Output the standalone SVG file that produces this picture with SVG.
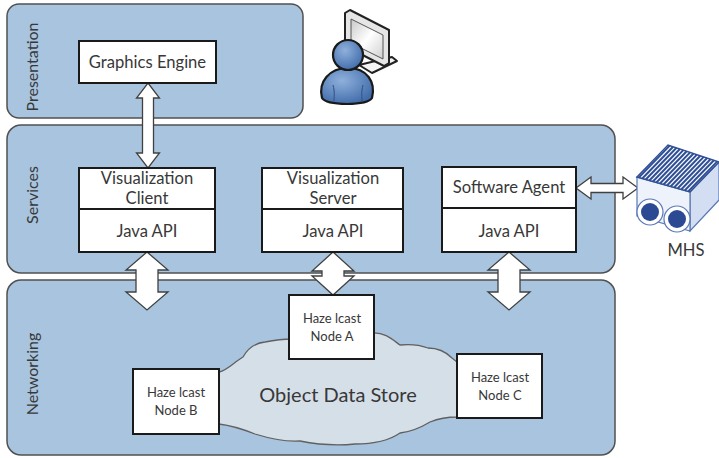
<svg xmlns="http://www.w3.org/2000/svg" width="719" height="458" viewBox="0 0 719 458">
  <defs>
    <style>
      .panel { fill: #a8c4de; stroke: #505050; stroke-width: 1.5; }
      .box { fill: #ffffff; stroke: #1a1a1a; stroke-width: 2; }
      .arrow { fill: #ffffff; stroke: #404040; stroke-width: 1.3; stroke-linejoin: miter; }
      .lbl { font-family: Lato, "Liberation Sans", sans-serif; fill: #383838; text-anchor: middle; }
      .side { font-family: Lato, "Liberation Sans", sans-serif; fill: #383838; text-anchor: middle; font-size: 16px; }
      .t16 { font-size: 16.6px; }
      .t13 { font-size: 13px; }
      .cloud { fill: #d5dfe8; stroke: #606060; stroke-width: 1.3; }
      .stripe { stroke: #2f4f96; stroke-width: 2; }
    </style>
    <radialGradient id="skin" cx="0.4" cy="0.35" r="0.7">
      <stop offset="0" stop-color="#8fb0dc"/>
      <stop offset="1" stop-color="#3f6ba9"/>
    </radialGradient>
    <linearGradient id="screen" x1="0" y1="0" x2="1" y2="1">
      <stop offset="0" stop-color="#c8c8c8"/>
      <stop offset="0.5" stop-color="#ffffff"/>
      <stop offset="1" stop-color="#d0d0d0"/>
    </linearGradient>
  </defs>

  <!-- layer panels -->
  <g id="layer-presentation">
    <rect class="panel" x="7" y="4" width="296" height="114" rx="12"/>
    <text class="side" transform="translate(38,67) rotate(-90)">Presentation</text>
  </g>
  <g id="layer-services">
    <rect class="panel" x="7" y="125" width="608" height="148" rx="14"/>
    <text class="side" transform="translate(38,195) rotate(-90)">Services</text>
  </g>
  <g id="layer-networking">
    <rect class="panel" x="7" y="280" width="608" height="175" rx="14"/>
    <text class="side" transform="translate(38,374) rotate(-90)">Networking</text>
  </g>

  <!-- shared data store cloud -->
  <g id="object-data-store">
    <path class="cloud" d="M219,372 C228,370 234,362 243,357 C248,348 255,343 265,342 C275,340 283,339 292,339 L372,333 C385,332 393,340 400,345 C410,344 420,345 428,348 C438,348 446,352 452,358 L457,362 L457,417 C448,417 440,418 430,422 C420,428 410,432 400,433 C390,440 375,444 355,444 C335,446 315,444 300,441 C285,442 268,438 255,434 C245,430 235,426 219,424 Z"/>
    <text class="lbl" x="338" y="402" font-size="20">Object Data Store</text>
  </g>

  <!-- connectors -->
  <g id="connectors">
    <path class="arrow" d="M148,83 L159.5,98 L153.5,98 L153.5,153 L159.5,153 L148,168 L136.5,153 L142.5,153 L142.5,98 L136.5,98 Z"/>
    <path class="arrow" d="M147,252 L168,270 L158,270 L158,292 L168,292 L147,310 L126,292 L136,292 L136,270 L126,270 Z"/>
    <path class="arrow" d="M333,252 L354,271 L344,271 L344,276 L354,276 L333,295 L312,276 L322,276 L322,271 L312,271 Z"/>
    <path class="arrow" d="M509,252 L530,270 L520,270 L520,292 L530,292 L509,310 L488,292 L498,292 L498,270 L488,270 Z"/>
    <path class="arrow" d="M576,188 L591,177 L591,183.5 L623,183.5 L623,177 L638,188 L623,199 L623,192.5 L591,192.5 L591,199 Z"/>
  </g>

  <!-- nodes -->
  <g id="graphics-engine">
    <rect class="box" x="79" y="41" width="137" height="42"/>
    <text class="lbl t16" x="147.5" y="68">Graphics Engine</text>
  </g>
  <g id="visualization-client">
    <rect class="box" x="79" y="168" width="136" height="84"/>
    <line x1="79" y1="209" x2="215" y2="209" stroke="#1a1a1a" stroke-width="2"/>
    <text class="lbl t16" x="147" y="184">Visualization</text>
    <text class="lbl t16" x="147" y="204">Client</text>
    <text class="lbl t16" x="147" y="237">Java API</text>
  </g>
  <g id="visualization-server">
    <rect class="box" x="262" y="168" width="141" height="84"/>
    <line x1="262" y1="209" x2="403" y2="209" stroke="#1a1a1a" stroke-width="2"/>
    <text class="lbl t16" x="333" y="184">Visualization</text>
    <text class="lbl t16" x="333" y="204">Server</text>
    <text class="lbl t16" x="333" y="237">Java API</text>
  </g>
  <g id="software-agent">
    <rect class="box" x="442" y="167" width="134" height="85"/>
    <line x1="442" y1="208" x2="576" y2="208" stroke="#1a1a1a" stroke-width="2"/>
    <text class="lbl t16" x="509" y="193">Software Agent</text>
    <text class="lbl t16" x="509" y="237">Java API</text>
  </g>
  <g id="hazelcast-node-a">
    <rect class="box" x="289" y="295" width="85" height="64"/>
    <text class="lbl t13" x="332" y="323">Haze lcast</text>
    <text class="lbl t13" x="332" y="341">Node A</text>
  </g>
  <g id="hazelcast-node-b">
    <rect class="box" x="133" y="369" width="86" height="65"/>
    <text class="lbl t13" x="176" y="397">Haze lcast</text>
    <text class="lbl t13" x="176" y="415">Node B</text>
  </g>
  <g id="hazelcast-node-c">
    <rect class="box" x="457" y="354" width="85" height="64"/>
    <text class="lbl t13" x="500" y="382">Haze lcast</text>
    <text class="lbl t13" x="500" y="400">Node C</text>
  </g>

  <!-- user at a workstation -->
  <g id="user">
    <path d="M359,65 L392,57 L397,61 L372,73 Z" fill="#f4f4f4" stroke="#222" stroke-width="2" stroke-linejoin="round"/>
    <path d="M345,13 L350,10 L389,30 L389,63 L384,66 L345,46 Z" fill="#e6e6e6" stroke="#222" stroke-width="2" stroke-linejoin="round"/>
    <path d="M351,19 L383,35 L383,59 L351,43 Z" fill="url(#screen)" stroke="#555" stroke-width="1"/>
    <path d="M322,98 C318,82 329,68 348,68 C367,68 376,82 372,98 C367,106 327,106 322,98 Z" fill="url(#skin)" stroke="#1a1a1a" stroke-width="2.2"/>
    <path d="M333,85 C335,92 334,98 334,101 M363,85 C361,92 362,98 362,101" fill="none" stroke="#2f4f80" stroke-width="1"/>
    <circle cx="348" cy="55" r="15" fill="url(#skin)" stroke="#1a1a1a" stroke-width="2.2"/>
  </g>

  <!-- MHS sensor unit -->
  <g id="mhs">
    <path d="M690,192 L719,162 L719,200 L690,231 Z" fill="#d3def2" stroke="#5a78b5" stroke-width="1.2"/>
    <path d="M637,177 L690,192 L690,231 L637,216 Z" fill="#eef2fa" stroke="#5a78b5" stroke-width="1.2"/>
    <path d="M637,177 L668,145 L719,162 L690,192 Z" fill="#ffffff" stroke="#2f4f96" stroke-width="1.5"/>
    <g class="stripe">
      <line x1="638.8" y1="177.5" x2="669.7" y2="145.6"/>
      <line x1="642.3" y1="178.5" x2="673.1" y2="146.7"/>
      <line x1="645.8" y1="179.5" x2="676.5" y2="147.8"/>
      <line x1="649.4" y1="180.5" x2="679.9" y2="149.0"/>
      <line x1="652.9" y1="181.5" x2="683.3" y2="150.1"/>
      <line x1="656.4" y1="182.5" x2="686.7" y2="151.2"/>
      <line x1="660.0" y1="183.5" x2="690.1" y2="152.4"/>
      <line x1="663.5" y1="184.5" x2="693.5" y2="153.5"/>
      <line x1="667.0" y1="185.5" x2="696.9" y2="154.6"/>
      <line x1="670.6" y1="186.5" x2="700.3" y2="155.8"/>
      <line x1="674.1" y1="187.5" x2="703.7" y2="156.9"/>
      <line x1="677.6" y1="188.5" x2="707.1" y2="158.0"/>
      <line x1="681.2" y1="189.5" x2="710.5" y2="159.2"/>
      <line x1="684.7" y1="190.5" x2="713.9" y2="160.3"/>
      <line x1="688.2" y1="191.5" x2="717.3" y2="161.4"/>
    </g>
    <circle cx="650" cy="212" r="13" fill="#ffffff" stroke="#5a78b5" stroke-width="1.2"/>
    <circle cx="650" cy="212" r="9" fill="#2c4a94"/>
    <circle cx="677" cy="219" r="13" fill="#ffffff" stroke="#5a78b5" stroke-width="1.2"/>
    <circle cx="677" cy="219" r="9" fill="#2c4a94"/>
    <text class="lbl t16" x="686" y="256">MHS</text>
  </g>
</svg>
